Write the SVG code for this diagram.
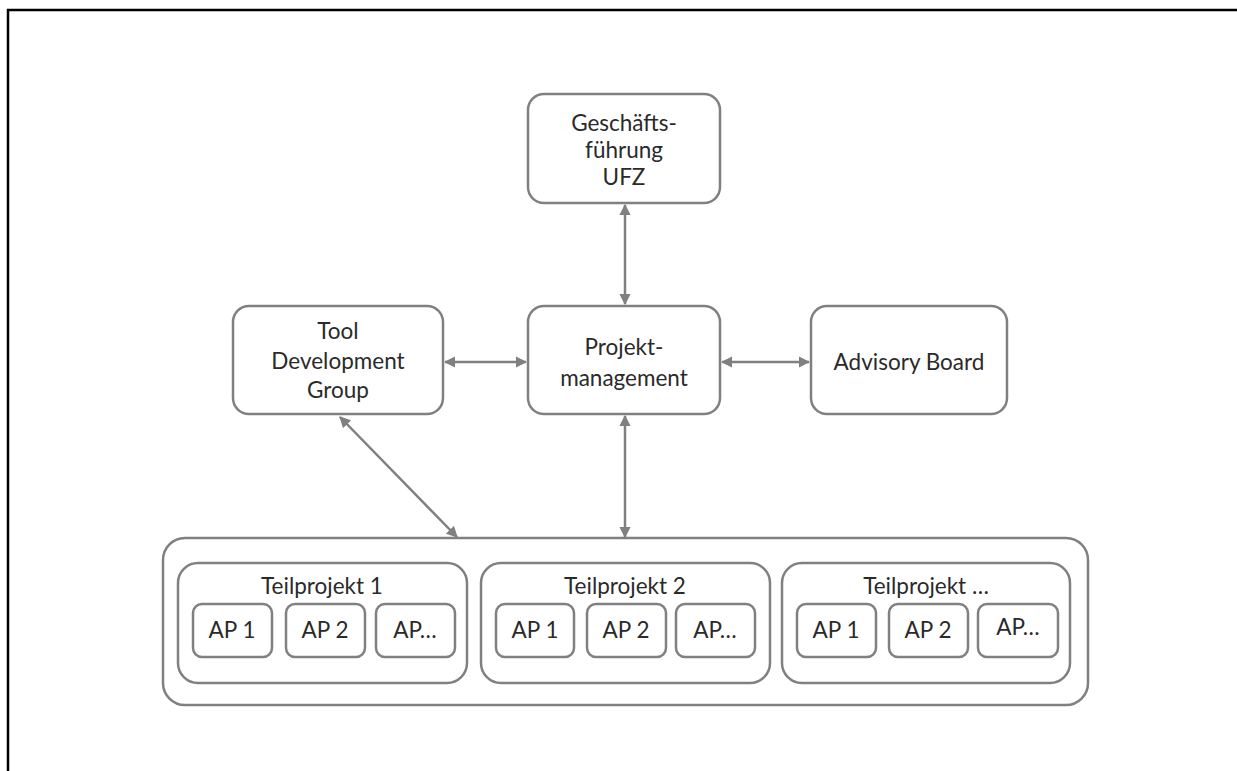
<svg xmlns="http://www.w3.org/2000/svg" width="1237" height="771" viewBox="0 0 1237 771">
<defs>
<style>
.box{fill:#fff;stroke:#808080;stroke-width:2.5}
.t{font-family:Lato,"Open Sans","Liberation Sans",sans-serif;font-size:22.5px;fill:#2a2a2a;text-anchor:middle}
.c{stroke:#808080;stroke-width:2.5;fill:none;marker-start:url(#ah);marker-end:url(#ah)}
</style>
<marker id="ah" viewBox="0 0 10 10" refX="9" refY="5" markerWidth="4.5" markerHeight="4.5" orient="auto-start-reverse" markerUnits="strokeWidth">
<path d="M0,0 L10,5 L0,10 Z" fill="#808080"/>
</marker>
</defs>
<rect width="1237" height="771" fill="#fff"/>
<path d="M8,771 V10 H1237" fill="none" stroke="#000" stroke-width="2.5"/>
<g id="connectors">
<line class="c" x1="625" y1="205" x2="625" y2="304"/>
<line class="c" x1="445" y1="362" x2="526" y2="362"/>
<line class="c" x1="722" y1="362" x2="809" y2="362"/>
<line class="c" x1="340" y1="417" x2="457" y2="537"/>
<line class="c" x1="625" y1="416" x2="625" y2="537"/>
</g>
<g id="geschaeftsfuehrung">
<rect class="box" x="528" y="94" width="192" height="109" rx="16"/>
<text class="t" x="624" y="131">Geschäfts-</text>
<text class="t" x="624" y="158">führung</text>
<text class="t" x="624" y="185">UFZ</text>
</g>
<g id="tool">
<rect class="box" x="233" y="306" width="210" height="108" rx="16"/>
<text class="t" x="338" y="339">Tool</text>
<text class="t" x="338" y="369">Development</text>
<text class="t" x="338" y="398">Group</text>
</g>
<g id="projektmanagement">
<rect class="box" x="528" y="306" width="192" height="108" rx="16"/>
<text class="t" x="624" y="355">Projekt-</text>
<text class="t" x="624" y="386">management</text>
</g>
<g id="advisory">
<rect class="box" x="811" y="306" width="196" height="108" rx="16"/>
<text class="t" x="909" y="370">Advisory Board</text>
</g>
<g id="container">
<rect class="box" x="163" y="538" width="925" height="167" rx="22"/>
</g>
<g id="tp1">
<rect class="box" x="178" y="563" width="289" height="120" rx="20"/>
<text class="t" x="322" y="594">Teilprojekt 1</text>
<g id="tp1-ap1"><rect class="box" x="193" y="604" width="79" height="53" rx="9"/><text class="t" x="232" y="638">AP 1</text></g>
<g id="tp1-ap2"><rect class="box" x="286" y="604" width="79" height="53" rx="9"/><text class="t" x="325" y="638">AP 2</text></g>
<g id="tp1-ap3"><rect class="box" x="376" y="604" width="79" height="53" rx="9"/><text class="t" x="415" y="638">AP…</text></g>
</g>
<g id="tp2">
<rect class="box" x="481" y="563" width="289" height="120" rx="20"/>
<text class="t" x="625" y="594">Teilprojekt 2</text>
<g id="tp2-ap1"><rect class="box" x="496" y="604" width="78" height="53" rx="9"/><text class="t" x="535" y="638">AP 1</text></g>
<g id="tp2-ap2"><rect class="box" x="587" y="604" width="79" height="53" rx="9"/><text class="t" x="626" y="638">AP 2</text></g>
<g id="tp2-ap3"><rect class="box" x="676" y="604" width="79" height="53" rx="9"/><text class="t" x="715" y="638">AP…</text></g>
</g>
<g id="tp3">
<rect class="box" x="782" y="563" width="288" height="120" rx="20"/>
<text class="t" x="926" y="594">Teilprojekt …</text>
<g id="tp3-ap1"><rect class="box" x="797" y="604" width="79" height="53" rx="9"/><text class="t" x="836" y="638">AP 1</text></g>
<g id="tp3-ap2"><rect class="box" x="889" y="604" width="79" height="53" rx="9"/><text class="t" x="928" y="638">AP 2</text></g>
<g id="tp3-ap3"><rect class="box" x="978" y="604" width="80" height="53" rx="9"/><text class="t" x="1018" y="635">AP…</text></g>
</g>
</svg>
